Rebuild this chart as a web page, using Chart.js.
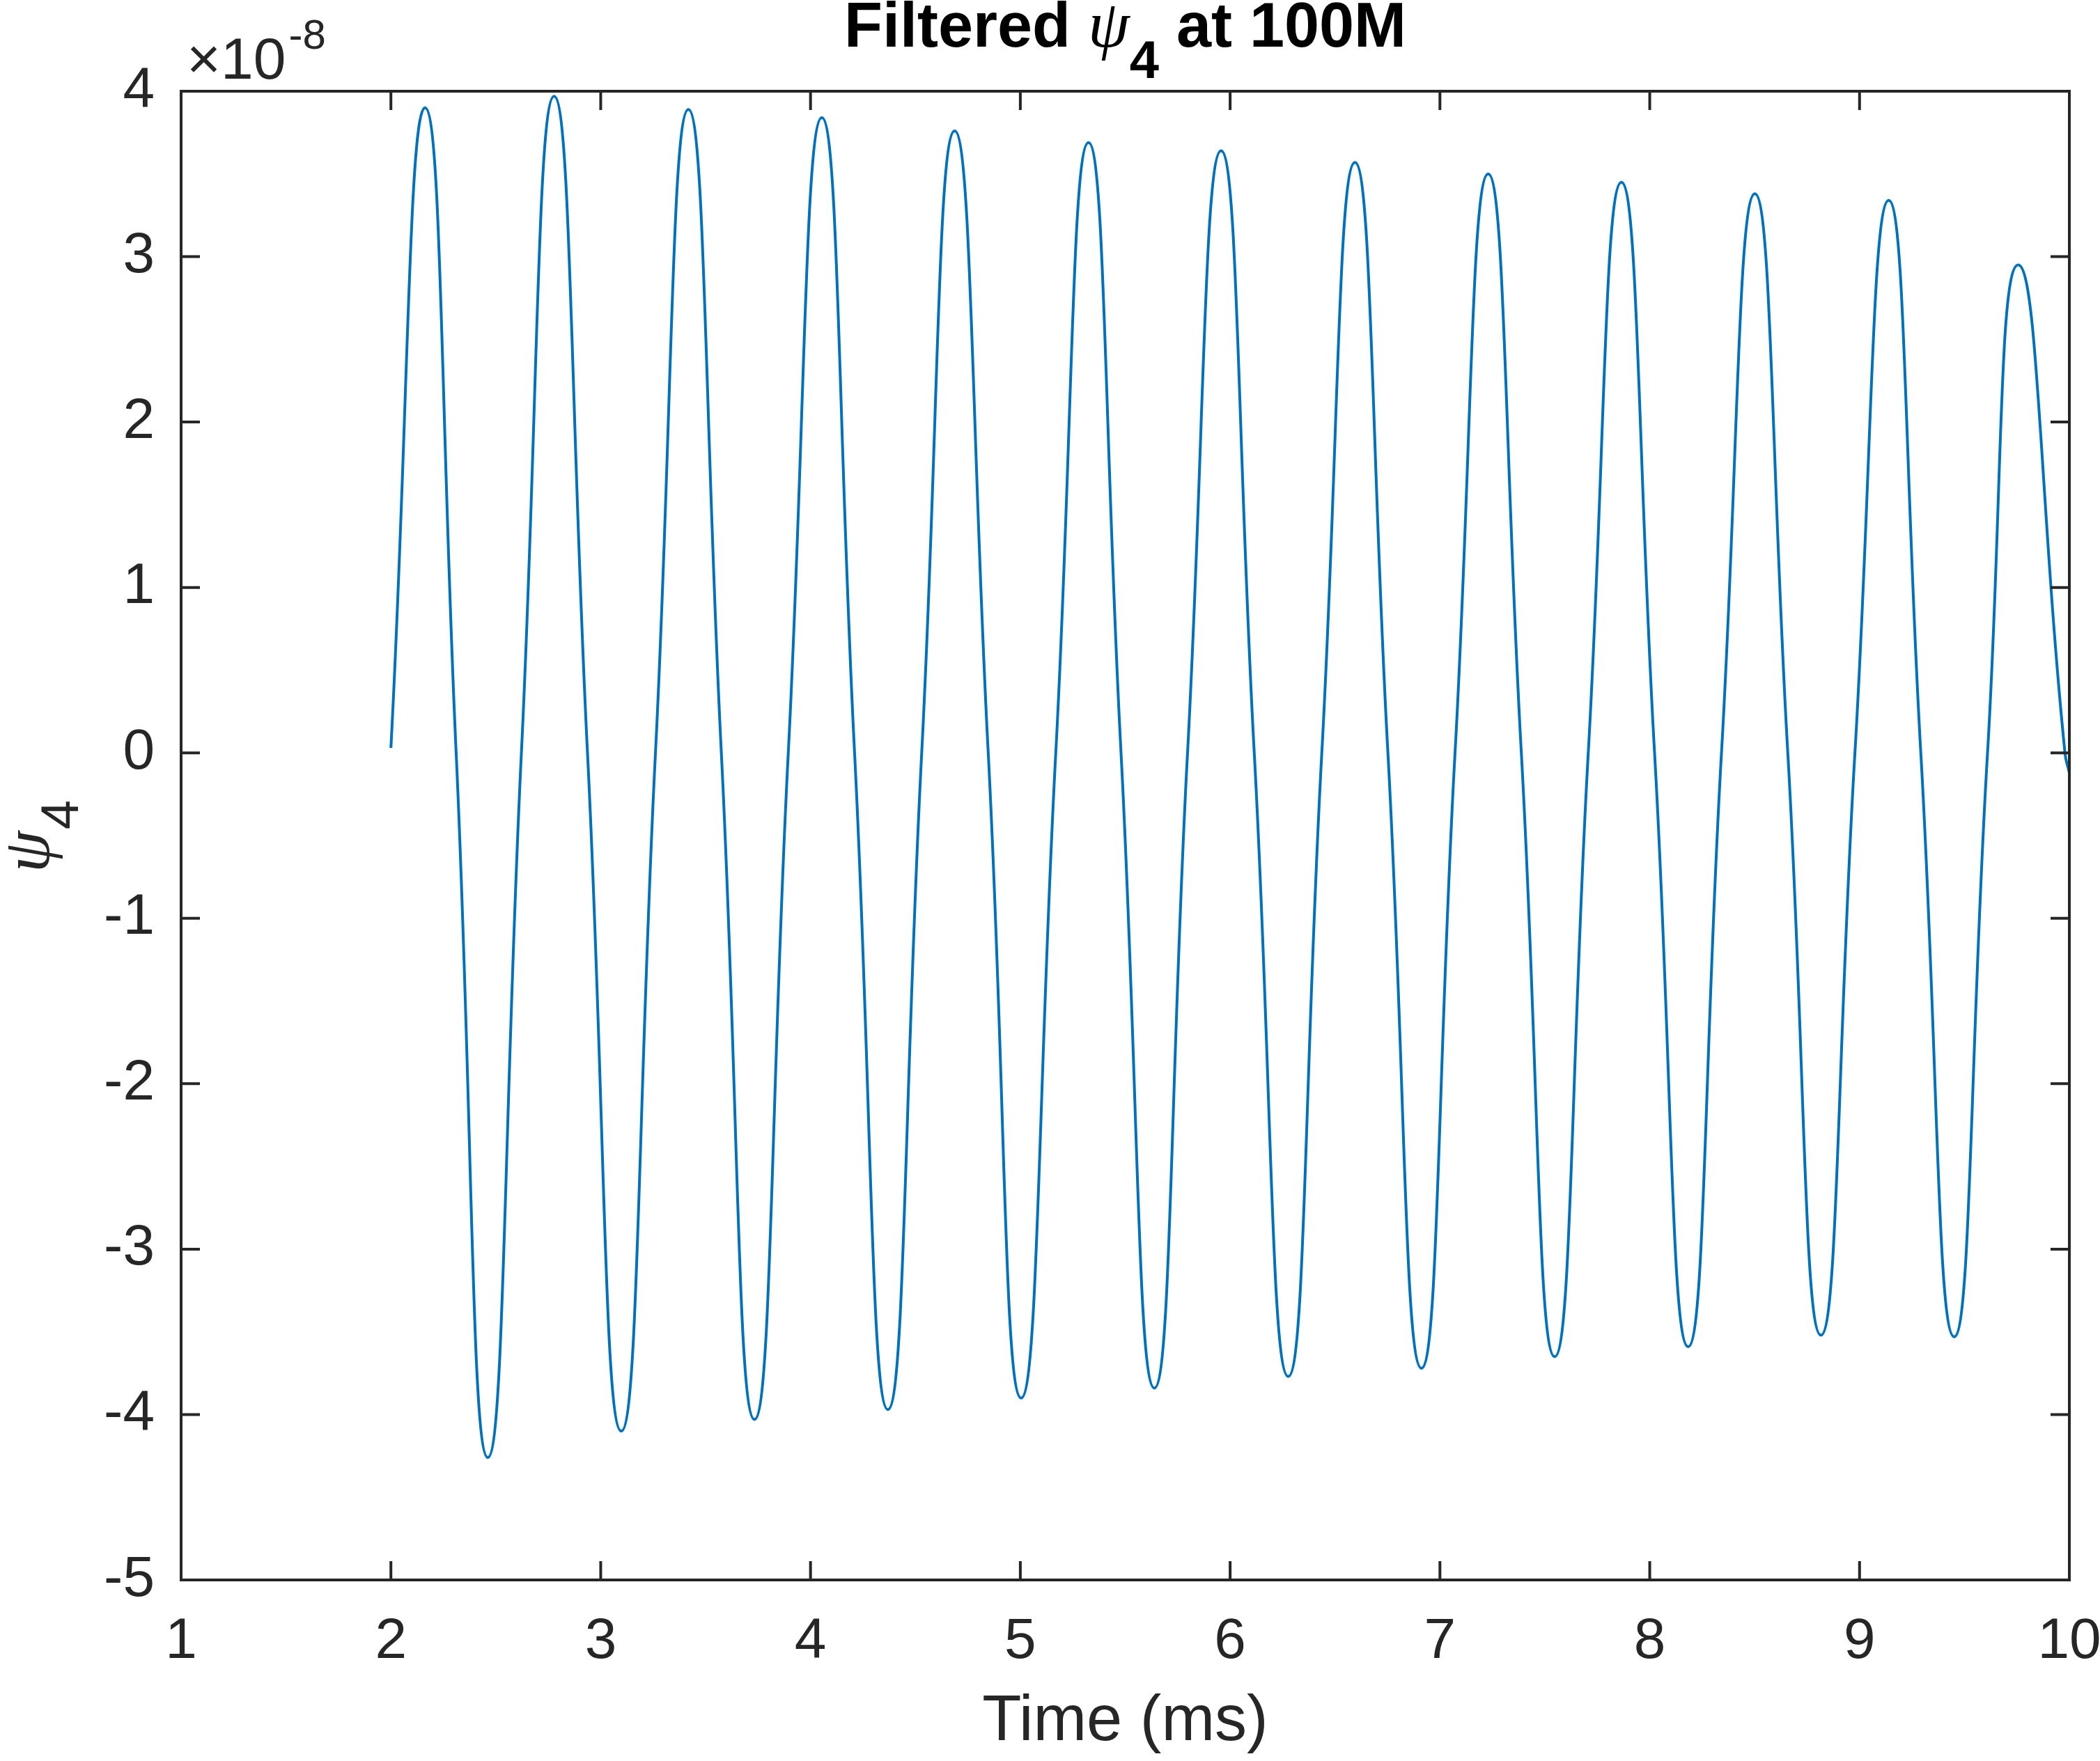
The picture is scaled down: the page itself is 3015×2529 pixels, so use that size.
<!DOCTYPE html>
<html>
<head>
<meta charset="utf-8">
<title>Filtered psi4 at 100M</title>
<script src="https://cdn.jsdelivr.net/npm/chart.js@4.4.1/dist/chart.umd.min.js"></script>
<style>
  html, body { margin: 0; padding: 0; background: #fff; }
  canvas { display: block; }
</style>
</head>
<body>
<canvas id="grafico" width="3015" height="2529"></canvas>
<script>
// tiempos (ms): inicio, picos, cruces por cero y valles
const tiempos = [
  2.000, 2.163, 2.311, 2.462, 2.622, 2.778, 2.937, 3.098, 3.261, 3.418,
  3.575, 3.733, 3.894, 4.054, 4.210, 4.369, 4.530, 4.687, 4.847, 5.004,
  5.169, 5.325, 5.480, 5.639, 5.797, 5.957, 6.115, 6.277, 6.437, 6.595,
  6.752, 6.912, 7.072, 7.230, 7.388, 7.547, 7.707, 7.865, 8.023, 8.183,
  8.342, 8.501, 8.658, 8.816, 8.978, 9.139, 9.292, 9.451, 9.610, 9.756,
  9.979, 10.000
];

// valores de psi4 en unidades de 1e-8
const psi4 = [
  0.03, 3.90, 0, -4.26, 0, 3.97, 0, -4.10, 0, 3.89,
  0, -4.03, 0, 3.84, 0, -3.97, 0, 3.76, 0, -3.90,
  0, 3.69, 0, -3.84, 0, 3.64, 0, -3.77, 0, 3.57,
  0, -3.72, 0, 3.50, 0, -3.65, 0, 3.45, 0, -3.59,
  0, 3.38, 0, -3.52, 0, 3.34, 0, -3.53, 0, 2.95,
  0, -0.12
];

// marcas de los ejes
const ticksX = [1, 2, 3, 4, 5, 6, 7, 8, 9, 10];
const ticksY = [-5, -4, -3, -2, -1, 0, 1, 2, 3, 4];

const tinta = '#262626';
const fuente = '"Liberation Sans", Arial, Helvetica, sans-serif';
const fuenteSerif = '"Liberation Serif", "Times New Roman", serif';

// dibuja fondo, marco con ticks hacia adentro y los textos con subindices
const marcoPlugin = {
  id: 'marco',
  beforeDraw(chart) {
    const ctx = chart.ctx;
    ctx.save();
    ctx.fillStyle = '#ffffff';
    ctx.fillRect(0, 0, chart.width, chart.height);
    ctx.restore();
  },
  afterDraw(chart) {
    const { ctx, chartArea: a, scales: { x, y } } = chart;
    const largo = 27;
    ctx.save();
    ctx.strokeStyle = tinta;
    ctx.lineWidth = 4;
    ctx.lineCap = 'butt';
    ctx.beginPath();
    ticksX.forEach(v => {
      const px = x.getPixelForValue(v);
      ctx.moveTo(px, a.bottom); ctx.lineTo(px, a.bottom - largo);
      ctx.moveTo(px, a.top); ctx.lineTo(px, a.top + largo);
    });
    ticksY.forEach(v => {
      const py = y.getPixelForValue(v);
      ctx.moveTo(a.left, py); ctx.lineTo(a.left + largo, py);
      ctx.moveTo(a.right, py); ctx.lineTo(a.right - largo, py);
    });
    ctx.stroke();
    ctx.strokeRect(a.left, a.top, a.right - a.left, a.bottom - a.top);

    ctx.fillStyle = '#000000';
    ctx.textBaseline = 'alphabetic';
    ctx.textAlign = 'left';

    // titulo: Filtered psi_4 at 100M
    const partes = [
      { txt: 'Filtered ', font: 'bold 90px ' + fuente, dy: 0 },
      { txt: 'ψ', font: 'italic 96px ' + fuenteSerif, dy: 0 },
      { txt: '4', font: 'bold 76px ' + fuente, dy: 45 },
      { txt: ' at 100M', font: 'bold 90px ' + fuente, dy: 0 }
    ];
    let total = 0;
    partes.forEach(p => { ctx.font = p.font; p.w = ctx.measureText(p.txt).width; total += p.w; });
    let cx = (a.left + a.right) / 2 - total / 2;
    partes.forEach(p => {
      ctx.font = p.font;
      ctx.fillText(p.txt, cx, 67 + p.dy);
      cx += p.w;
    });

    // multiplicador del eje y
    ctx.fillStyle = tinta;
    ctx.font = '84px ' + fuente;
    ctx.fillText('×10', 268, 113);
    const w10 = ctx.measureText('×10').width;
    ctx.font = '60px ' + fuente;
    ctx.fillText('-8', 268 + w10 + 4, 70);

    // etiqueta del eje y: psi_4 rotada
    ctx.translate(70, 1202);
    ctx.rotate(-Math.PI / 2);
    ctx.font = 'italic 96px ' + fuenteSerif;
    const wPsi = ctx.measureText('ψ').width;
    ctx.font = '76px ' + fuente;
    const w4 = ctx.measureText('4').width;
    const inicio = -(wPsi + w4) / 2;
    ctx.font = 'italic 96px ' + fuenteSerif;
    ctx.fillText('ψ', inicio, 0);
    ctx.font = '76px ' + fuente;
    ctx.fillText('4', inicio + wPsi + 2, 42);
    ctx.restore();
  }
};

new Chart(document.getElementById('grafico'), {
  type: 'scatter',
  data: {
    datasets: [{
      data: tiempos.map((t, i) => ({ x: t, y: psi4[i] })),
      showLine: true,
      borderColor: '#0072BD',
      borderWidth: 4,
      pointRadius: 0,
      tension: 0.5,
      fill: false
    }]
  },
  options: {
    responsive: false,
    animation: false,
    devicePixelRatio: 1,
    layout: { padding: { top: 131, right: 44, left: 0, bottom: 0 } },
    plugins: {
      legend: { display: false },
      tooltip: { enabled: false }
    },
    scales: {
      x: {
        type: 'linear',
        min: 1,
        max: 10,
        grid: { display: false, drawTicks: false },
        border: { display: false },
        afterBuildTicks: s => { s.ticks = ticksX.map(v => ({ value: v })); },
        ticks: {
          font: { family: fuente, size: 82 },
          color: tinta,
          padding: 40,
          autoSkip: false,
          maxRotation: 0
        },
        title: {
          display: true,
          text: 'Time (ms)',
          font: { family: fuente, size: 92 },
          color: tinta,
          padding: 0
        },
        afterFit: s => { s.height = 260; s.paddingLeft = 0; s.paddingRight = 0; }
      },
      y: {
        type: 'linear',
        min: -5,
        max: 4,
        grid: { display: false, drawTicks: false },
        border: { display: false },
        afterBuildTicks: s => { s.ticks = ticksY.map(v => ({ value: v })); },
        ticks: {
          font: { family: fuente, size: 82 },
          color: tinta,
          padding: 38,
          autoSkip: false
        },
        afterFit: s => { s.width = 260; s.paddingTop = 0; s.paddingBottom = 0; }
      }
    }
  },
  plugins: [marcoPlugin]
});
</script>
</body>
</html>
